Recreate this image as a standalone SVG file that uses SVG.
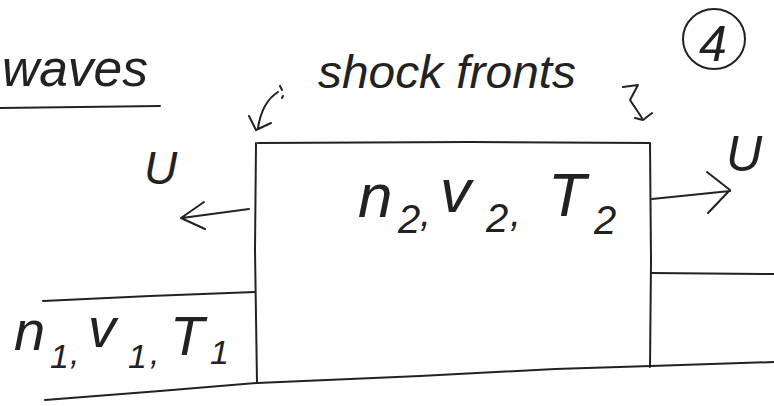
<svg xmlns="http://www.w3.org/2000/svg" width="774" height="406" viewBox="0 0 774 406">
<style>
.ln{fill:none;stroke:#222;stroke-width:2;stroke-linecap:round;stroke-linejoin:round}
.tx{font-family:"Liberation Sans",Arial,sans-serif;font-style:italic;fill:#222}
</style>
<rect width="774" height="406" fill="#fff"/>
<g id="title">
<text class="tx" x="2" y="86" font-size="52" textLength="146" lengthAdjust="spacingAndGlyphs">waves</text>
<path class="ln" d="M0 108 L160 106"/>
</g>
<g id="label-shock-fronts">
<text class="tx" x="318" y="88" font-size="46" textLength="258" lengthAdjust="spacingAndGlyphs">shock fronts</text>
</g>
<g id="page-number">
<ellipse class="ln" cx="714" cy="39" rx="31" ry="30"/>
<text class="tx" x="713" y="61" font-size="50" text-anchor="middle" font-style="normal">4</text>
</g>
<g id="state2">
<path class="ln" d="M258 143 L470 142 L650 143 M256 143 L255 250 L257 383 M650 143 L651 260 L650 367"/>
<text class="tx" font-size="62"><tspan x="358" y="217">n</tspan><tspan x="398" y="233" font-size="40">2</tspan><tspan x="420" y="226" font-size="40">,</tspan><tspan x="440" y="212">v</tspan><tspan x="486" y="232" font-size="40">2</tspan><tspan x="510" y="226" font-size="40">,</tspan><tspan x="548" y="216">T</tspan><tspan x="594" y="234" font-size="40">2</tspan></text>
</g>
<g id="state1">
<path class="ln" d="M43 301 L150 296 L255 292"/>
<text class="tx" font-size="56"><tspan x="14" y="350">n</tspan><tspan x="50" y="368" font-size="34">1</tspan><tspan x="70" y="364" font-size="34">,</tspan><tspan x="88" y="347">v</tspan><tspan x="128" y="368" font-size="34">1</tspan><tspan x="150" y="364" font-size="34">,</tspan><tspan x="170" y="355">T</tspan><tspan x="210" y="364" font-size="34">1</tspan></text>
</g>
<g id="right-region">
<path class="ln" d="M651 273 L774 274"/>
</g>
<g id="bottom-wall">
<path class="ln" d="M45 400 L160 391 L257 383 L420 376 L555 369 L651 366 L774 362"/>
</g>
<g id="label-u-left"><text class="tx" x="144" y="184" font-size="46">U</text></g>
<g id="label-u-right"><text class="tx" x="726" y="171" font-size="50">U</text></g>
<g id="connectors">
<path class="ln" d="M249 209 L182 218 M204 202 L181 218 L205 229"/>
<path class="ln" d="M652 199 L730 191 M707 172 L730 190 L708 213"/>
<path class="ln" d="M278 92 Q262 102 258 128 M249 116 L256 130 L271 123"/>
<path class="ln" d="M280 86 L282 90 M283 96 L282 98"/>
<path class="ln" d="M623 87 L638 85 L630 100 L642 118 M635 118 L643 120 L652 113"/>
</g>
</svg>
